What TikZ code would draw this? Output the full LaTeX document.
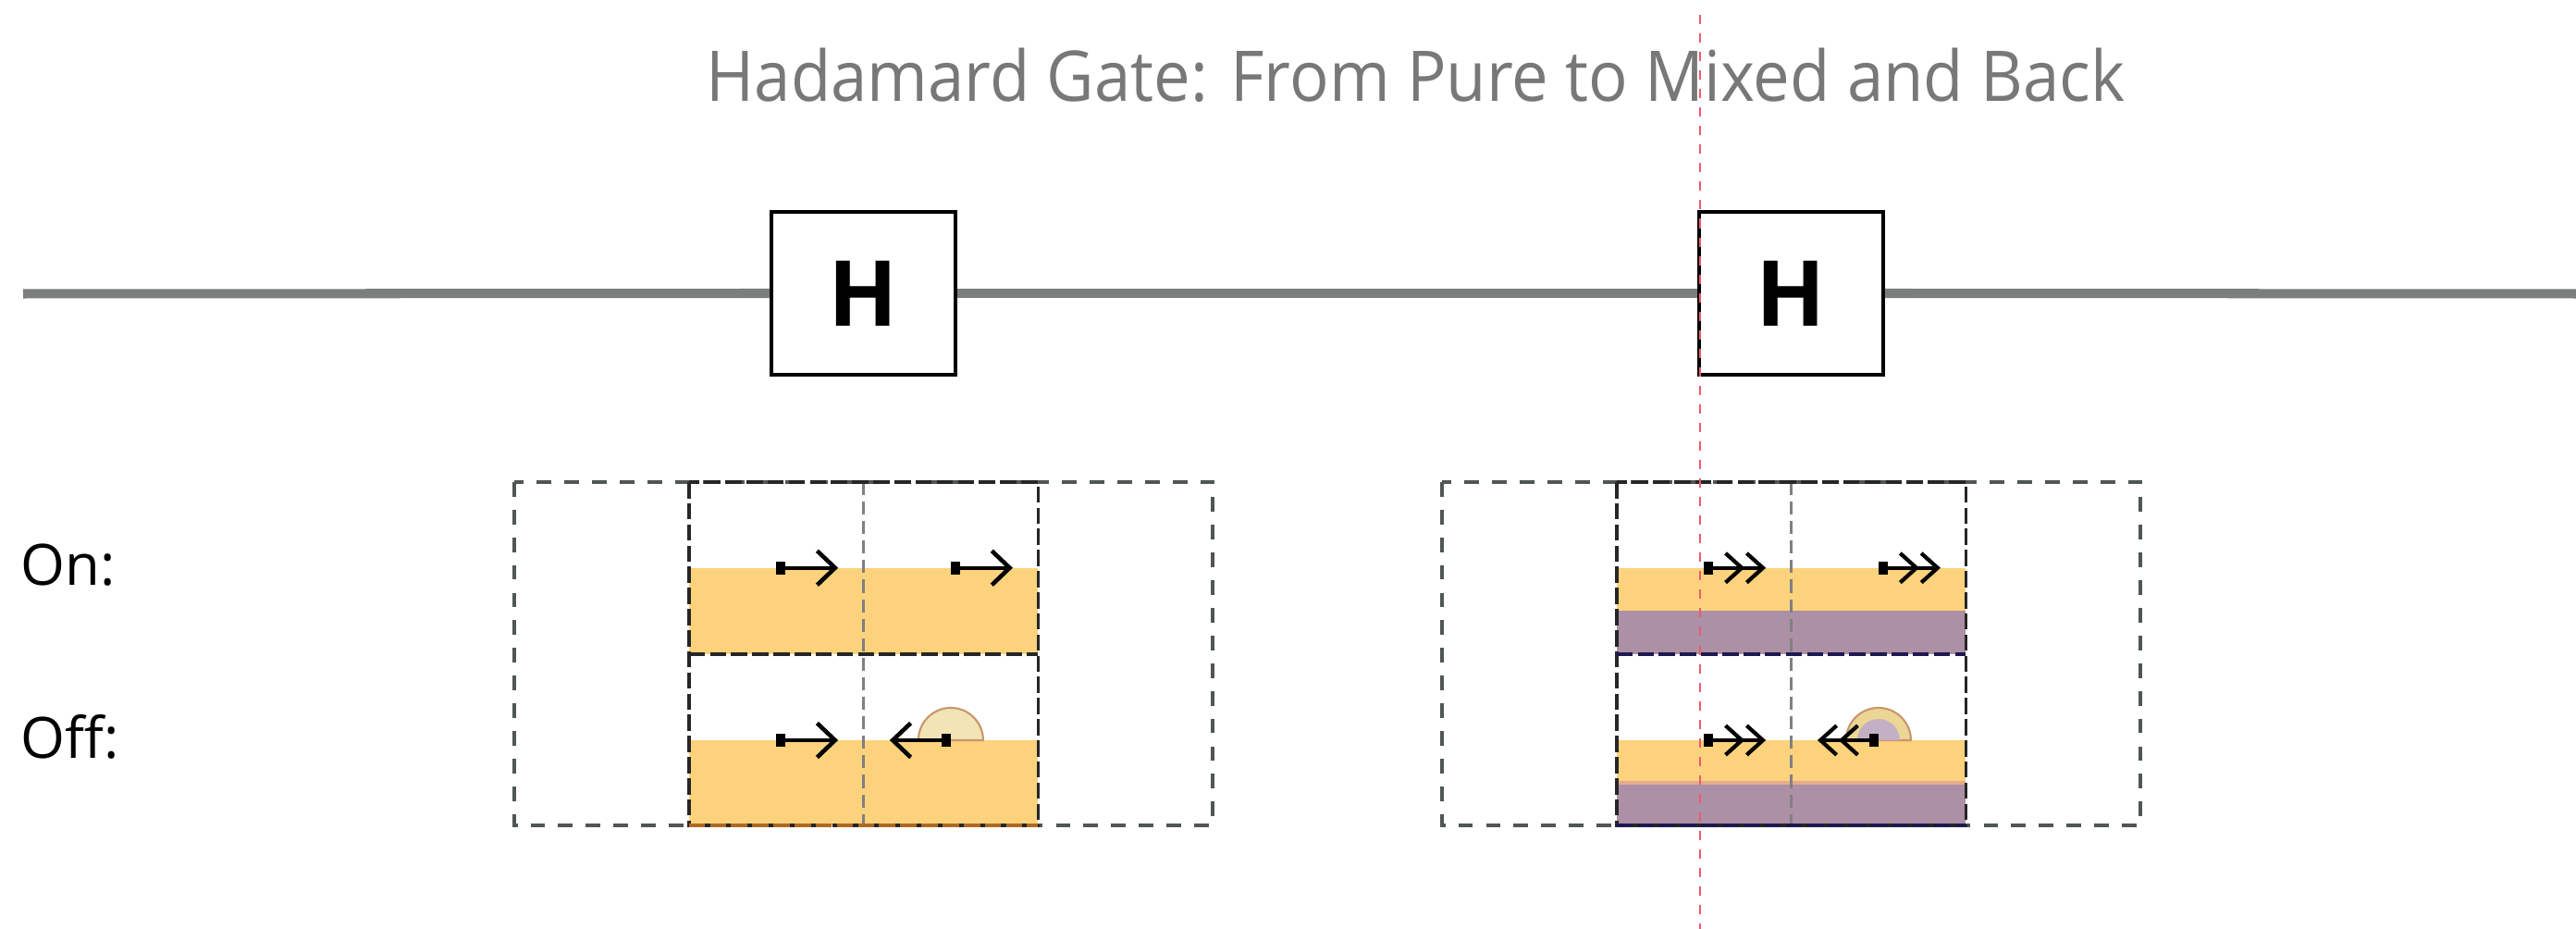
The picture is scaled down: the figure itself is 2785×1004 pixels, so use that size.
\documentclass[tikz,border=0pt]{standalone}
\usepackage{fontspec}
\setmainfont{Open Sans}
\usetikzlibrary{arrows.meta}
\definecolor{wirec}{RGB}{124,126,126}
\definecolor{ofill}{RGB}{252,210,124}
\definecolor{pfill}{RGB}{172,144,166}
\definecolor{redl}{RGB}{236,90,110}
\definecolor{titlegray}{RGB}{120,120,120}
\definecolor{dashgray}{RGB}{80,85,85}
\definecolor{domeline}{RGB}{200,150,110}
\definecolor{domefill}{RGB}{242,228,180}
\definecolor{domering}{RGB}{236,214,150}
\definecolor{domein}{RGB}{196,176,196}
\definecolor{bandsalmon}{RGB}{228,172,140}
\definecolor{edgebrown}{RGB}{175,105,35}
\definecolor{edgenavy}{RGB}{30,25,80}
\begin{document}
\begin{tikzpicture}[x=0.01cm,y=-0.01cm,
  gatebox/.style={draw=black, line width=1pt, fill=white, minimum width=1.99cm, minimum height=1.76cm, inner sep=0pt, font=\fontsize{28}{30}\selectfont\bfseries},
  wireline/.style={draw=wirec, line width=2.85pt},
  outerdash/.style={draw=dashgray, line width=0.9pt, dash pattern=on 4.5pt off 4pt},
  innerdash/.style={draw=black!85, line width=1pt, dash pattern=on 5pt off 1.5pt},
  middash/.style={draw=gray, line width=0.8pt, dash pattern=on 4pt off 2pt},
  ptr/.style={line width=1.15pt, {Square[length=2.8pt,width=4pt]}-{Straight Barb[length=5.5pt,width=10.5pt,line width=1.3pt]}},
  ptrr/.style={line width=1.15pt, {Square[length=2.8pt,width=4pt]}-{Straight Barb[length=5pt,width=9pt,line width=1.2pt]Straight Barb[length=5pt,width=9pt,line width=1.2pt]}},
  lbl/.style={anchor=base west, inner sep=0pt, font=\fontsize{17.5}{20}\selectfont},
  redline/.style={draw=redl, line width=0.6pt, dash pattern=on 2.85pt off 2.85pt}
]
\useasboundingbox (0,0) rectangle (2785,1004);

% title
\node[anchor=base, inner sep=0pt, text=titlegray] (title) at (1530.5,110)
  {\resizebox{15.33cm}{0.54cm}{\fontsize{22}{26}\selectfont\raisebox{0pt}[0.714em][0pt]{Hadamard Gate: From Pure to Mixed and Back}}};

% wire and gates
\node[gatebox] (g1) at (933.5,317) {H};
\node[gatebox] (g2) at (1936.5,317) {H};
\coordinate (wL) at (25,317.5);
\coordinate (wR) at (2785,317.5);
\draw[wireline] (wL) -- (g1.west);
\draw[wireline] (g1.east) -- (g2.west);
\draw[wireline] (g2.east) -- (wR);

% labels
\node[lbl] (on) at (22,633) {On:};
\node[lbl] (off) at (22,820) {Off:};

% left group
\begin{scope}[shift={(933.5,0)}]
  \fill[ofill] (-188.75,613.75) rectangle (188.75,707);
  \fill[ofill] (-188.75,800) rectangle (188.75,892);
  \draw[outerdash] (-377.5,521) rectangle (377.5,892);
  \draw[middash] (0,521) -- (0,892);
  \draw[innerdash] (-188.75,521) rectangle (188.75,892);
  \draw[innerdash] (-188.75,707) -- (188.75,707);
  \draw[innerdash, draw=edgebrown] (-188.75,892) -- (188.75,892);
  % dome
  \fill[domefill, draw=domeline, line width=0.6pt] (94.4,800) ++(0.35cm,0) arc[start angle=0, end angle=180, radius=0.35cm] -- cycle;
  \coordinate (La1s) at (-94.4,613.75); \coordinate (La1e) at (-27.4,613.75);
  \coordinate (La2s) at (94.4,613.75);  \coordinate (La2e) at (161.4,613.75);
  \coordinate (La3s) at (-94.4,800);    \coordinate (La3e) at (-27.4,800);
  \coordinate (La4s) at (94.4,800);     \coordinate (La4e) at (28.4,800);
  \draw[ptr] (La1s) -- (La1e);
  \draw[ptr] (La2s) -- (La2e);
  \draw[ptr] (La3s) -- (La3e);
  \draw[ptr] (La4s) -- (La4e);
\end{scope}

% right group
\begin{scope}[shift={(1936.5,0)}]
  \fill[ofill] (-188.75,613.75) rectangle (188.75,660);
  \fill[pfill] (-188.75,660) rectangle (188.75,707);
  \fill[ofill] (-188.75,800) rectangle (188.75,846);
  \fill[pfill] (-188.75,846) rectangle (188.75,892);
  \fill[bandsalmon] (-188.75,844) rectangle (188.75,848);
  \draw[outerdash] (-377.5,521) rectangle (377.5,892);
  \draw[middash] (0,521) -- (0,892);
  \draw[innerdash] (-188.75,521) rectangle (188.75,892);
  \draw[innerdash, draw=edgenavy] (-188.75,707) -- (188.75,707);
  \draw[innerdash, draw=edgenavy] (-188.75,892) -- (188.75,892);
  % dome
  \fill[domering, draw=domeline, line width=0.6pt] (94.4,800) ++(0.35cm,0) arc[start angle=0, end angle=180, radius=0.35cm] -- cycle;
  \fill[domein] (94.4,800) ++(0.23cm,0) arc[start angle=0, end angle=180, radius=0.23cm] -- cycle;
  \coordinate (Ra1s) at (-94.4,613.75); \coordinate (Ra1e) at (-27.4,613.75);
  \coordinate (Ra2s) at (94.4,613.75);  \coordinate (Ra2e) at (161.4,613.75);
  \coordinate (Ra3s) at (-94.4,800);    \coordinate (Ra3e) at (-27.4,800);
  \coordinate (Ra4s) at (94.4,800);     \coordinate (Ra4e) at (28.4,800);
  \draw[ptrr] (Ra1s) -- (Ra1e);
  \draw[ptrr] (Ra2s) -- (Ra2e);
  \draw[ptrr] (Ra3s) -- (Ra3e);
  \draw[ptrr] (Ra4s) -- (Ra4e);
\end{scope}

% red dashed marker line
\coordinate (rt) at (1838,16);
\coordinate (rb) at (1838,1004);
\draw[redline] (rt) -- (rb);
\end{tikzpicture}
\end{document}
